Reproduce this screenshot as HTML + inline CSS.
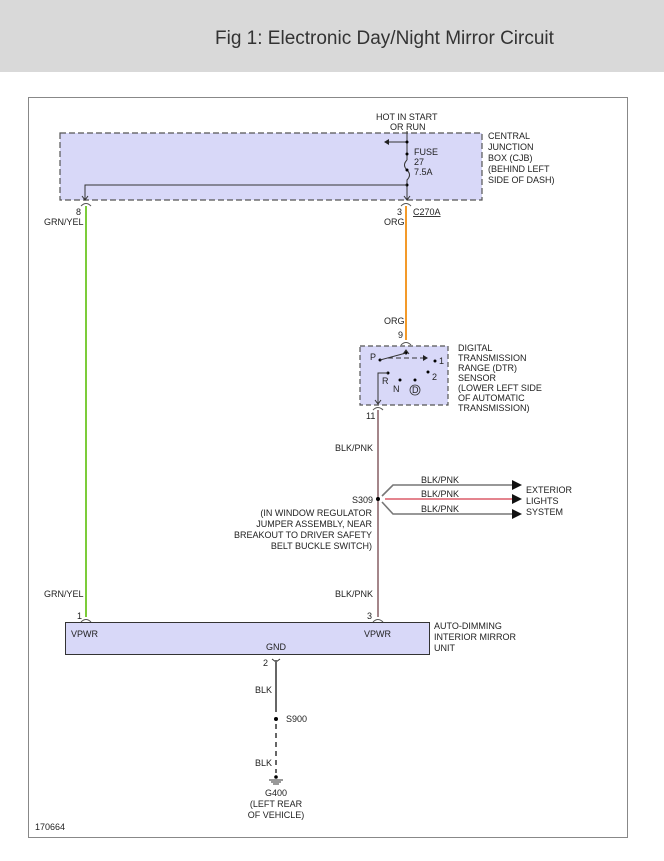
<!DOCTYPE html>
<html><head><style>
body{margin:0;width:664px;height:856px;background:#fff;overflow:hidden}
svg text{font-family:"Liberation Sans",sans-serif;font-size:9px;fill:#222}
</style></head><body>
<svg width="664" height="856" viewBox="0 0 664 856">
<rect x="0" y="0" width="664" height="72" fill="#d9d9d9"/>
<text x="215" y="44" style="font-size:19px;fill:#333">Fig 1: Electronic Day/Night Mirror Circuit</text>
<rect x="28.5" y="97.5" width="599" height="740" fill="#fff" stroke="#888"/>
<!-- CJB -->
<rect x="60" y="133" width="422" height="67" fill="#d8d8f8" stroke="#555" stroke-dasharray="6,3" stroke-width="1.2"/>
<text x="376" y="120">HOT IN START</text><text x="390" y="130">OR RUN</text>
<line x1="407" y1="131" x2="407" y2="160" stroke="#333"/>
<line x1="407" y1="142" x2="386" y2="142" stroke="#333"/>
<path d="M384 142 l5 -3 v6z" fill="#222"/>
<path d="M407 160 q-5 5 0 10 q5 5 0 10 v20" stroke="#333" fill="none"/>
<circle cx="407" cy="142" r="1.5"/><circle cx="407" cy="154" r="1.5"/><circle cx="407" cy="170" r="1.5"/><circle cx="407" cy="185" r="1.5"/>
<polyline points="407,185 85,185 85,200" stroke="#333" fill="none"/>
<path d="M82 196 l3 4 l3 -4 M404 196 l3 4 l3 -4" stroke="#333" fill="none"/>
<text x="414" y="155">FUSE</text><text x="414" y="165">27</text><text x="414" y="175">7.5A</text>
<text x="488" y="139">CENTRAL</text><text x="488" y="150">JUNCTION</text><text x="488" y="161">BOX (CJB)</text><text x="488" y="172">(BEHIND LEFT</text><text x="488" y="183">SIDE OF DASH)</text>
<path d="M81 206 q5 -5 10 0 M401 206 q5 -5 10 0" stroke="#555" fill="none"/>
<text x="76" y="215">8</text><text x="44" y="225">GRN/YEL</text>
<text x="397" y="215">3</text><text x="384" y="225">ORG</text>
<text x="413" y="215" style="text-decoration:underline">C270A</text>
<!-- wires -->
<line x1="86" y1="206" x2="86" y2="617" stroke="#7ccc3a" stroke-width="2"/>
<line x1="406" y1="206" x2="406" y2="340" stroke="#f39a2a" stroke-width="2"/>
<text x="384" y="324">ORG</text><text x="398" y="338">9</text>
<path d="M401 345 q5 -5 10 0" stroke="#555" fill="none"/>
<!-- DTR -->
<rect x="360" y="346" width="88" height="59" fill="#d8d8f8" stroke="#555" stroke-dasharray="5,3" stroke-width="1.2"/>
<path d="M403 354 l3 -4 l3 4" stroke="#333" fill="none"/>
<line x1="406" y1="350" x2="406" y2="353" stroke="#333"/>
<circle cx="406" cy="353" r="1.5"/><circle cx="380" cy="360" r="1.5"/>
<line x1="380" y1="360" x2="406" y2="353" stroke="#333"/>
<line x1="388" y1="358" x2="424" y2="358" stroke="#333" stroke-dasharray="5,3"/>
<path d="M428 358 l-5 -3 v6z" fill="#222"/>
<text x="370" y="360">P</text>
<circle cx="435" cy="361" r="1.5"/><text x="439" y="364">1</text>
<circle cx="428" cy="372" r="1.5"/><text x="432" y="380">2</text>
<circle cx="388" cy="373" r="1.5"/><text x="382" y="384">R</text>
<circle cx="400" cy="380" r="1.5"/><text x="393" y="392">N</text>
<circle cx="415" cy="380" r="1.5"/><circle cx="415" cy="390" r="5" fill="none" stroke="#333" stroke-width=".8"/><text x="412" y="393">D</text>
<polyline points="388,373 378,373 378,404" stroke="#333" fill="none"/>
<path d="M375 400 l3 4 l3 -4" stroke="#333" fill="none"/>
<path d="M373 410 q5 -5 10 0" stroke="#555" fill="none"/>
<text x="458" y="351">DIGITAL</text><text x="458" y="361">TRANSMISSION</text><text x="458" y="371">RANGE (DTR)</text><text x="458" y="381">SENSOR</text><text x="458" y="391">(LOWER LEFT SIDE</text><text x="458" y="401">OF AUTOMATIC</text><text x="458" y="411">TRANSMISSION)</text>
<text x="366" y="419">11</text>
<line x1="378" y1="410" x2="378" y2="617" stroke="#8a7a7e" stroke-width="2"/>
<line x1="378" y1="410" x2="378" y2="617" stroke="#e0a0a8" stroke-width=".6"/>
<text x="335" y="451">BLK/PNK</text>
<!-- S309 -->
<circle cx="378" cy="499" r="2"/>
<polyline points="382,496 393,485 512,485" stroke="#777" stroke-width="1.6" fill="none"/>
<line x1="385" y1="499" x2="512" y2="499" stroke="#d43a4a" stroke-width="1.3"/>
<polyline points="382,502 393,514 512,514" stroke="#777" stroke-width="1.6" fill="none"/>
<path d="M522 485 l-10 -5 v10z M522 499 l-10 -5 v10z M522 514 l-10 -5 v10z" fill="#111"/>
<text x="421" y="483">BLK/PNK</text><text x="421" y="497">BLK/PNK</text><text x="421" y="512">BLK/PNK</text>
<text x="526" y="493">EXTERIOR</text><text x="526" y="504">LIGHTS</text><text x="526" y="515">SYSTEM</text>
<text x="352" y="503">S309</text>
<text x="372" y="516" text-anchor="end">(IN WINDOW REGULATOR</text>
<text x="372" y="527" text-anchor="end">JUMPER ASSEMBLY, NEAR</text>
<text x="372" y="538" text-anchor="end">BREAKOUT TO DRIVER SAFETY</text>
<text x="372" y="549" text-anchor="end">BELT BUCKLE SWITCH)</text>
<text x="44" y="597">GRN/YEL</text><text x="335" y="597">BLK/PNK</text>
<text x="77" y="619">1</text><text x="367" y="619">3</text>
<path d="M81 622 q5 -5 10 0 M373 622 q5 -5 10 0" stroke="#555" fill="none"/>
<!-- mirror -->
<rect x="65.5" y="622.5" width="364" height="32" fill="#d8d8f8" stroke="#333"/>
<text x="71" y="637">VPWR</text><text x="364" y="637">VPWR</text><text x="266" y="650">GND</text>
<text x="434" y="629">AUTO-DIMMING</text><text x="434" y="640">INTERIOR MIRROR</text><text x="434" y="651">UNIT</text>
<path d="M272 659 l4 3 l4 -3" stroke="#333" fill="none"/>
<text x="263" y="666">2</text>
<line x1="276" y1="660" x2="276" y2="712" stroke="#666" stroke-width="2"/>
<circle cx="276" cy="719" r="2"/>
<text x="286" y="722">S900</text>
<line x1="276" y1="724" x2="276" y2="773" stroke="#666" stroke-width="2" stroke-dasharray="5,4"/>
<text x="255" y="693">BLK</text><text x="255" y="766">BLK</text>
<circle cx="276" cy="777" r="1.8"/>
<line x1="269" y1="780" x2="283" y2="780" stroke="#333"/><line x1="271" y1="782" x2="281" y2="782" stroke="#333"/><line x1="273" y1="784" x2="279" y2="784" stroke="#333"/>
<text x="276" y="796" text-anchor="middle">G400</text>
<text x="276" y="807" text-anchor="middle">(LEFT REAR</text>
<text x="276" y="818" text-anchor="middle">OF VEHICLE)</text>
<text x="35" y="830">170664</text>
</svg>
</body></html>
